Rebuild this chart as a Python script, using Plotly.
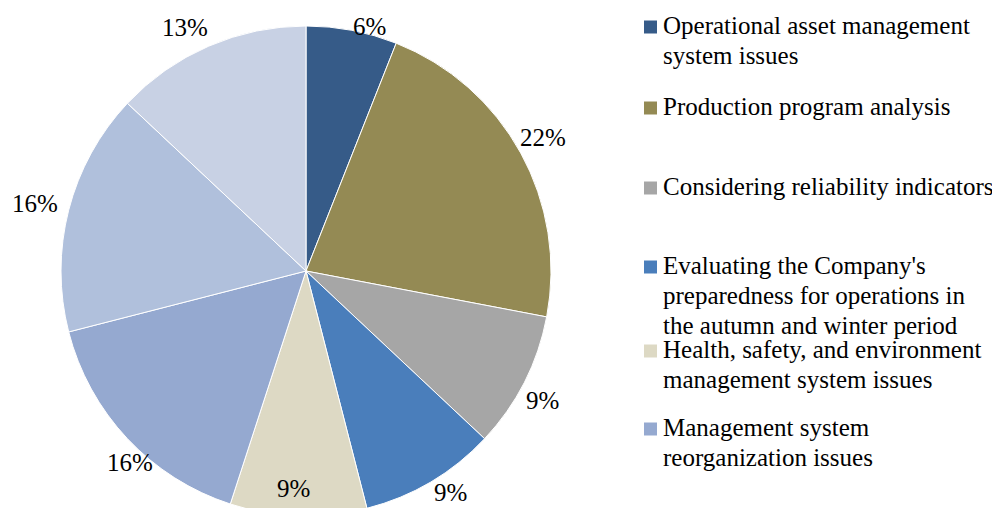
import math

import plotly.graph_objects as go

W, H = 1000, 508

# slices, clockwise from 12 o'clock
labels = [
    "Operational asset management system issues",
    "Production program analysis",
    "Considering reliability indicators",
    "Evaluating the Company's preparedness for operations in the autumn and winter period",
    "Health, safety, and environment management system issues",
    "Management system reorganization issues",
    "Other issues (7)",
    "Other issues (8)",
]
values = [6, 22, 9, 9, 9, 16, 16, 13]
colors = ["#365b88", "#948a54", "#a6a6a6", "#4a7ebb",
          "#ddd9c4", "#95a9d0", "#b0c0dc", "#c8d1e4"]

# legend text as it is wrapped in the reference (last two entries are cut off)
legend_lines = [
    ["Operational asset management", "system issues"],
    ["Production program analysis"],
    ["Considering reliability indicators"],
    ["Evaluating the Company's", "preparedness for operations in",
     "the autumn and winter period"],
    ["Health, safety, and environment", "management system issues"],
    ["Management system", "reorganization issues"],
]

# layout in figure px (page adds an 8px body margin)
cx, cy, r = 298, 263, 245
# label placement: distance from centre (x radius) and nudge from mid-angle (deg)
label_dist = [1.03, 1.11, 1.10, 1.08, 0.89, 1.06, 1.14, 1.11]
label_nudge = [3.7, -0.5, 1.7, -2.5, 1.6, -4.2, -0.4, -3.1]
legend_top = [19, 100, 180, 259, 343, 421]
line_gap = 30
font = "Liberation Serif, Times New Roman, serif"

fig = go.Figure()
fig.add_trace(go.Pie(
    labels=labels,
    values=values,
    sort=False,
    direction="clockwise",
    rotation=0,
    marker=dict(colors=colors, line=dict(color="white", width=1)),
    textinfo="none",
    hoverinfo="label+percent",
    showlegend=False,
    domain=dict(x=[(cx - r) / W, (cx + r) / W],
                y=[max(0, 1 - (cy + r) / H), 1 - (cy - r) / H]),
))

# percentage labels, placed along each slice's mid-angle
total = sum(values)
cum = 0
annotations = []
for v, f, nudge in zip(values, label_dist, label_nudge):
    mid = (cum + v / 2) / total * 2 * math.pi + math.radians(nudge)
    cum += v
    x = cx + f * r * math.sin(mid)
    y = cy - f * r * math.cos(mid)
    annotations.append(dict(
        x=x / W, y=1 - y / H, xref="paper", yref="paper",
        text=f"{round(100 * v / total)}%", showarrow=False,
        xanchor="center", yanchor="middle",
        font=dict(family=font, size=25, color="black"),
    ))

# hand-built legend
shapes = []
for lines, top, col in zip(legend_lines, legend_top, colors):
    shapes.append(dict(
        type="rect", xref="paper", yref="paper",
        x0=636 / W, x1=649 / W, y0=1 - (top - 6.5) / H, y1=1 - (top + 6.5) / H,
        fillcolor=col, line=dict(width=0),
    ))
    for i, txt in enumerate(lines):
        annotations.append(dict(
            x=653 / W, y=1 - (top - 2 + i * line_gap) / H, xref="paper", yref="paper",
            text=txt, showarrow=False, xanchor="left", yanchor="middle",
            font=dict(family=font, size=25, color="black"),
        ))

fig.update_layout(
    width=W, height=H,
    margin=dict(l=0, r=0, t=0, b=0),
    paper_bgcolor="white",
    plot_bgcolor="white",
    annotations=annotations,
    shapes=shapes,
)

fig.write_html("out.html")
